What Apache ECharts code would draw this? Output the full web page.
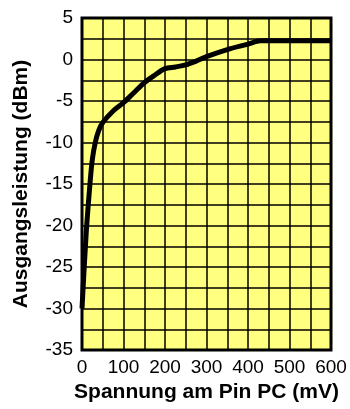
<!DOCTYPE html>
<html>
<head>
<meta charset="utf-8">
<script src="https://cdn.jsdelivr.net/npm/echarts@6/dist/echarts.min.js"></script>
<style>
  html, body { margin: 0; padding: 0; background: #fff; }
  #chart { width: 350px; height: 409px; }
</style>
</head>
<body>
<div id="chart"></div>
<script>
  // Spannung am Pin PC (mV)
  var voltage = [0, 10, 20, 25, 32, 40, 50, 75, 100, 125, 150, 175, 200, 225, 250, 275, 300, 350, 400, 430, 600]
  // Ausgangsleistung (dBm)
  var power = [-30, -21, -14.5, -12, -10, -8.6, -7.6, -6.2, -5.2, -4.0, -2.8, -1.9, -1.1, -0.9, -0.65, -0.2, 0.35, 1.2, 1.85, 2.25, 2.25]

  var xLabels = [0, 100, 200, 300, 400, 500, 600]
  var yLabels = [-35, -30, -25, -20, -15, -10, -5, 0, 5]

  var font = 'Liberation Sans, Arial, sans-serif'

  var myChart = echarts.init(document.getElementById('chart'))
  myChart.setOption({
    animation: false,
    grid: {
      left: 82,
      right: 19,
      top: 18,
      bottom: 59,
      show: true,
      backgroundColor: '#ffff80',
      borderColor: '#000',
      borderWidth: 3
    },
    xAxis: {
      type: 'value',
      min: 0,
      max: 600,
      interval: 50,
      name: 'Spannung am Pin PC (mV)',
      nameLocation: 'middle',
      nameGap: 32,
      nameTextStyle: { fontFamily: font, fontSize: 21, fontWeight: 'bold', color: '#000' },
      axisLine: { show: false },
      axisTick: { show: false },
      axisLabel: {
        fontFamily: font, fontSize: 19, color: '#000', margin: 8,
        formatter: function (v) { return xLabels.indexOf(v) >= 0 ? String(v) : '' }
      },
      splitLine: { show: true, lineStyle: { color: '#000', width: 1.5 } }
    },
    yAxis: {
      type: 'value',
      min: -35,
      max: 5,
      interval: 2.5,
      name: 'Ausgangsleistung (dBm)',
      nameLocation: 'middle',
      nameGap: 50,
      nameTextStyle: { fontFamily: font, fontSize: 21, fontWeight: 'bold', color: '#000' },
      axisLine: { show: false },
      axisTick: { show: false },
      axisLabel: {
        fontFamily: font, fontSize: 19, color: '#000', margin: 9,
        formatter: function (v) { return yLabels.indexOf(v) >= 0 ? String(v) : '' }
      },
      splitLine: { show: true, lineStyle: { color: '#000', width: 1.5 } }
    },
    series: [
      {
        type: 'line',
        smooth: 0.3,
        symbol: 'none',
        lineStyle: { color: '#000', width: 5 },
        data: voltage.map(function (v, i) { return [v, power[i]] })
      }
    ]
  })
</script>
</body>
</html>
